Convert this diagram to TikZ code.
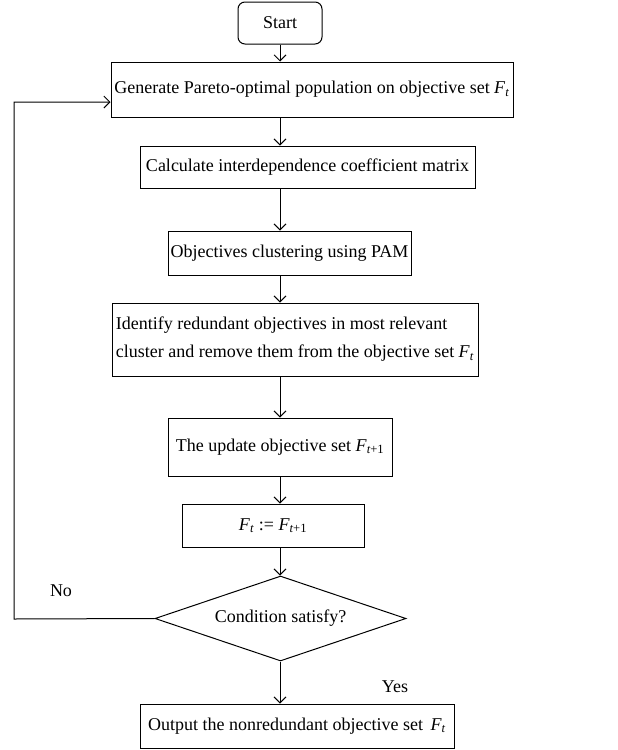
\documentclass[tikz,border=0pt]{standalone}
\usepackage{fontspec}
\setmainfont{Liberation Serif}
\usetikzlibrary{arrows.meta,shapes.geometric}
\newcommand{\Fv}[1]{\textit{F}\textsubscript{\textit{#1}}}
\begin{document}
\begin{tikzpicture}[x=1pt,y=-1pt,
  box/.style={draw, line width=1pt, inner sep=0pt, font=\fontsize{18}{28}\selectfont},
  lbl/.style={inner sep=0pt, font=\fontsize{18}{22}\selectfont},
  arr/.style={-{Straight Barb[length=6pt,width=12pt,line width=0.9pt]}, line width=1pt}]
\useasboundingbox (0,0) rectangle (618,750);
\node[box, rounded corners=7pt, minimum width=84pt, minimum height=42pt] (start) at (280,23) {Start};
\node[box, minimum width=402pt, minimum height=55pt] (b1) at (312,89.5) {Generate Pareto-optimal population on objective set \Fv{t}};
\node[box, minimum width=335pt, minimum height=42pt] (b2) at (307.5,167) {Calculate interdependence coefficient matrix};
\node[box, minimum width=243pt, minimum height=44pt] (b3) at (289.5,253) {Objectives clustering using PAM};
\node[box, minimum width=366pt, minimum height=73pt, align=left] (b4) at (295,339.5) {Identify redundant objectives in most relevant\\cluster and remove them from the objective set \Fv{t}};
\node[box, minimum width=224pt, minimum height=58pt] (b5) at (280,447) {The update objective set \Fv{t{\upshape+1}}};
\node[box, minimum width=182pt, minimum height=43pt] (b6) at (273,525.5) {\Fv{t} := \Fv{t{\upshape+1}}};
\node[box, diamond, aspect=2.93, minimum width=251pt, minimum height=85pt] (dia) at (280.5,618.5) {Condition satisfy?};
\node[box, minimum width=314pt, minimum height=44pt] (out) at (297,726) {Output the nonredundant objective set\ \,\Fv{t}};
\node[lbl] (no) at (61,591) {No};
\node[lbl] (yes) at (395,687) {Yes};
\coordinate (ax) at (280,0);
\coordinate (lp) at (14,619);
\coordinate (lq) at (14,102);
\draw[arr] (start.south -| ax) -- (b1.north -| ax);
\draw[arr] (b1.south -| ax) -- (b2.north -| ax);
\draw[arr] (b2.south -| ax) -- (b3.north -| ax);
\draw[arr] (b3.south -| ax) -- (b4.north -| ax);
\draw[arr] (b4.south -| ax) -- (b5.north -| ax);
\draw[arr] (b5.south -| ax) -- (b6.north -| ax);
\draw[arr] (b6.south -| ax) -- (dia.north -| ax);
\draw[arr] (dia.south -| ax) -- (out.north -| ax);
\draw[arr] (dia.west) -- (lp) -- (lq) -- (b1.west |- lq);
\end{tikzpicture}
\end{document}
